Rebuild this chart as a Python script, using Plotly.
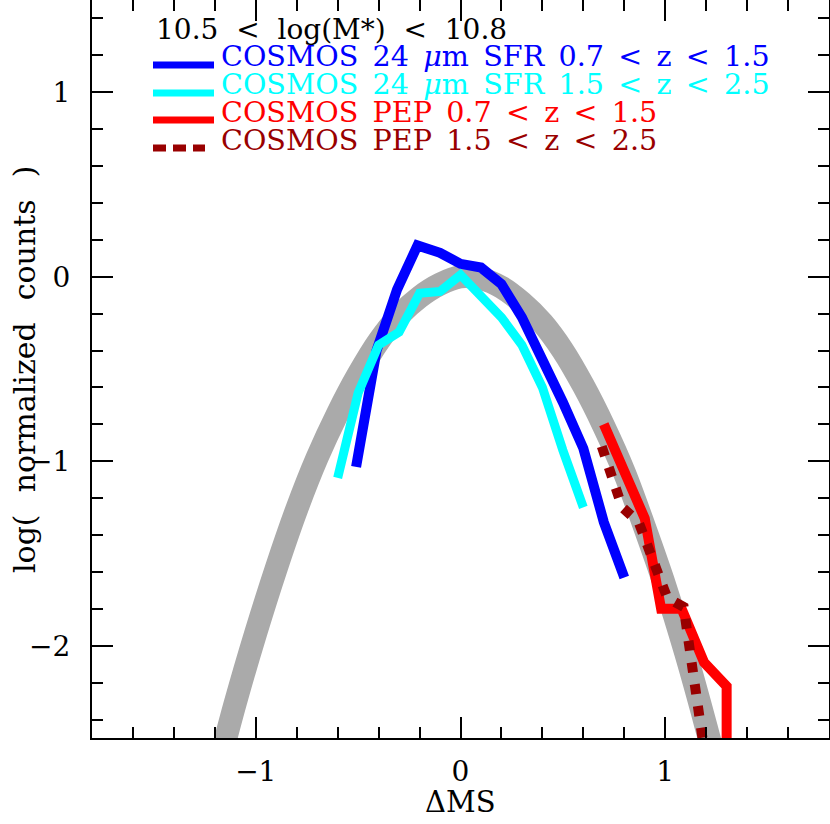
import plotly.graph_objects as go

# ---- data ----
model_x = [-1.2, -1.1, -1.0, -0.9, -0.8, -0.7, -0.6, -0.5, -0.4, -0.3, -0.2, -0.1, 0.0,
           0.1, 0.2, 0.3, 0.4, 0.5, 0.6, 0.7, 0.8, 0.9, 1.0, 1.1, 1.2, 1.3]
model_y = [-2.73, -2.31, -1.93, -1.58, -1.26, -0.98, -0.74, -0.53, -0.35, -0.21, -0.11, -0.04, 0.0,
           -0.01, -0.057, -0.14, -0.25, -0.40, -0.59, -0.81, -1.06, -1.36, -1.68, -2.04, -2.44, -2.87]

sfr_lowz_x = [-0.51, -0.41, -0.31, -0.21, -0.1, 0.0, 0.1, 0.2, 0.3, 0.4, 0.5, 0.6, 0.7, 0.8]
sfr_lowz_y = [-1.03, -0.40, -0.07, 0.17, 0.13, 0.07, 0.05, -0.04, -0.22, -0.44, -0.68, -0.93, -1.33, -1.63]

sfr_highz_x = [-0.6, -0.5, -0.4, -0.3, -0.2, -0.1, 0.0, 0.1, 0.2, 0.3, 0.4, 0.5, 0.6]
sfr_highz_y = [-1.09, -0.63, -0.37, -0.30, -0.09, -0.08, 0.01, -0.10, -0.22, -0.37, -0.60, -0.94, -1.25]

pep_lowz_x = [0.70, 0.80, 0.90, 0.98, 1.08, 1.19, 1.30, 1.30]
pep_lowz_y = [-0.80, -1.04, -1.31, -1.80, -1.80, -2.09, -2.22, -2.70]

pep_highz_x = [0.69, 0.79, 0.87, 1.01, 1.09, 1.20]
pep_highz_y = [-0.92, -1.25, -1.33, -1.74, -1.79, -2.64]

x_ticks = [-1, 0, 1]
y_ticks = [-2, -1, 0, 1]

SP_T = "\u2007"          # gap used in the mass-bin title
SP_L = "\u2002"          # gap used in the legend labels
SP_Y = "\u2007\u200a"    # gap used in the y-axis title
title_text = SP_T.join(["10.5", "<", "log(M*)", "<", "10.8"])
legend_labels = [
    SP_L.join(["COSMOS", "24", "<i>\u03bc</i>m", "SFR", "0.7", "<", "z", "<", "1.5"]),
    SP_L.join(["COSMOS", "24", "<i>\u03bc</i>m", "SFR", "1.5", "<", "z", "<", "2.5"]),
    SP_L.join(["COSMOS", "PEP", "0.7", "<", "z", "<", "1.5"]),
    SP_L.join(["COSMOS", "PEP", "1.5", "<", "z", "<", "2.5"]),
]
legend_colors = ["#0000ff", "#00ffff", "#ff0000", "#990000"]
legend_dash = ["solid", "solid", "solid", "13px,7px"]

FONT = "DejaVu Serif"

fig = go.Figure()
fig.add_trace(go.Scatter(x=model_x, y=model_y, mode="lines",
                         line=dict(color="#aaaaaa", width=23, shape="spline"),
                         showlegend=False, hoverinfo="skip"))
fig.add_trace(go.Scatter(x=sfr_lowz_x, y=sfr_lowz_y, mode="lines",
                         line=dict(color="#0000ff", width=10), showlegend=False))
fig.add_trace(go.Scatter(x=sfr_highz_x, y=sfr_highz_y, mode="lines",
                         line=dict(color="#00ffff", width=9), showlegend=False))
fig.add_trace(go.Scatter(x=pep_lowz_x, y=pep_lowz_y, mode="lines",
                         line=dict(color="#ff0000", width=10), showlegend=False))
fig.add_trace(go.Scatter(x=pep_highz_x, y=pep_highz_y, mode="lines",
                         line=dict(color="#990000", width=10, dash="10px,12px"),
                         showlegend=False))

# plot area geometry in pixels (for placing the legend-like annotations)
L, R, T, B = 92, 1, 0, 86
W, H = 830, 824
pw, ph = W - L - R, H - T - B

def px(xp):
    return (xp - L) / pw

def py(yp):
    return 1 - (yp - T) / ph

annotations = [
    dict(text=title_text, x=px(154), y=py(29), xref="paper", yref="paper",
         xanchor="left", yanchor="middle", showarrow=False,
         font=dict(family=FONT, size=28, color="black")),
    dict(text="\u0394MS", x=0.5, y=py(802), xref="paper", yref="paper",
         xanchor="center", yanchor="middle", showarrow=False,
         font=dict(family=FONT, size=29, color="black")),
    dict(text=SP_Y.join(["log(", "normalized", "counts", ")"]), x=px(25), y=py(370),
         xref="paper", yref="paper", xanchor="center", yanchor="middle",
         textangle=-90, showarrow=False,
         font=dict(family=FONT, size=30, color="black")),
]
shapes = []
row_centers = [56, 84, 112, 140]
line_rows = [65, 93, 120, 148]
line_ends = [214, 214, 214, 205]
for lab, col, dsh, yc, yl, xe in zip(legend_labels, legend_colors, legend_dash,
                                     row_centers, line_rows, line_ends):
    annotations.append(dict(text=lab, x=px(219), y=py(yc), xref="paper", yref="paper",
                            xanchor="left", yanchor="middle", showarrow=False,
                            font=dict(family=FONT, size=28.6, color=col)))
    shapes.append(dict(type="line", xref="paper", yref="paper",
                       x0=px(153), x1=px(xe), y0=py(yl), y1=py(yl),
                       line=dict(color=col, width=7, dash=dsh)))

axis_common = dict(showline=True, linecolor="black", linewidth=2, mirror="allticks",
                   ticks="inside", ticklen=21, tickwidth=2, tickcolor="black",
                   showgrid=False, zeroline=False, automargin=False,
                   tickfont=dict(family=FONT, size=28, color="black"))

fig.update_xaxes(range=[-1.8, 1.8], tickvals=x_ticks, ticklabelstandoff=7,
                 minor=dict(dtick=0.2, tick0=0, ticklen=11, tickwidth=2,
                            tickcolor="black", ticks="inside", showgrid=False),
                 **axis_common)
fig.update_yaxes(range=[-2.5, 1.5], tickvals=y_ticks, ticklabelstandoff=14,
                 minor=dict(dtick=0.2, tick0=0, ticklen=11, tickwidth=2,
                            tickcolor="black", ticks="inside", showgrid=False),
                 **axis_common)

fig.update_layout(width=W, height=H, margin=dict(l=L, r=R, t=T, b=B, autoexpand=False),
                  plot_bgcolor="white", paper_bgcolor="white",
                  annotations=annotations, shapes=shapes, showlegend=False)

fig.write_html("out.html", config={"displayModeBar": False},
               post_script="document.body.style.margin='0px';"
                           "document.body.style.overflow='hidden';")
